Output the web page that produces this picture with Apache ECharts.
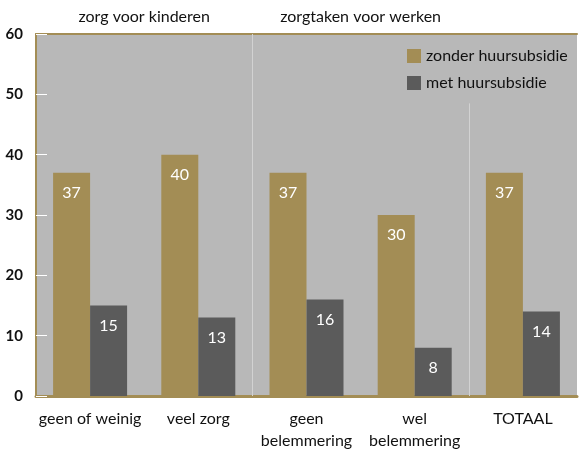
<!DOCTYPE html>
<html>
<head>
<meta charset="utf-8">
<script src="https://cdn.jsdelivr.net/npm/echarts@6/dist/echarts.min.js"></script>
<style>
  html, body { margin: 0; padding: 0; background: #fff; }
  #chart { width: 580px; height: 452px; }
</style>
</head>
<body>
<div id="chart"></div>
<script>
// categorieën en waarden
const categories = ['geen of weinig', 'veel zorg', 'geen\nbelemmering', 'wel\nbelemmering', 'TOTAAL'];
const zonder = [37, 40, 37, 30, 37];
const met = [15, 13, 16, 8, 14];
const groupLabels = { 1: 'zorg voor kinderen', 3: 'zorgtaken voor werken' };
const seriesNames = ['zonder huursubsidie', 'met huursubsidie'];

const gold = '#a38d55';
const dark = '#5b5b5b';
const font = 'Lato';

const chart = echarts.init(document.getElementById('chart'), null, { renderer: 'canvas' });

const barLabel = {
  show: true,
  position: 'insideTop',
  distance: 12,
  color: '#fff',
  fontFamily: font,
  fontSize: 16
};

chart.setOption({
  animation: false,
  textStyle: { fontFamily: font },
  grid: {
    left: 36, top: 34, width: 545, height: 367,
    show: true, backgroundColor: '#b8b8b8', borderWidth: 0
  },
  legend: {
    data: seriesNames,
    orient: 'vertical',
    left: 402, top: 43,
    icon: 'rect',
    itemWidth: 14, itemHeight: 14, itemGap: 11,
    textStyle: { fontFamily: font, fontSize: 16, color: '#111' }
  },
  xAxis: [{
    type: 'category',
    data: categories,
    axisLine: { lineStyle: { color: gold, width: 3 } },
    axisTick: { show: false },
    axisLabel: { fontFamily: font, fontSize: 16, color: '#111', margin: 12, lineHeight: 22, interval: 0 }
  }, {
    type: 'value',
    position: 'top',
    min: 0, max: 5, interval: 1,
    axisLine: { show: true, lineStyle: { color: gold, width: 2 } },
    axisTick: { show: false },
    splitLine: { show: false },
    axisLabel: {
      margin: 9, fontFamily: font, fontSize: 16, color: '#111',
      showMinLabel: true, showMaxLabel: true,
      formatter: v => groupLabels[v] || ''
    }
  }],
  yAxis: {
    type: 'value',
    min: 0, max: 60, interval: 10,
    axisLine: { show: true, lineStyle: { color: gold, width: 2 } },
    axisTick: { show: true, inside: true, length: 11, lineStyle: { color: '#fff', width: 1 } },
    splitLine: { show: false },
    axisLabel: { fontFamily: font, fontSize: 15, fontWeight: 'bold', color: '#111', margin: 13 }
  },
  series: [{
    name: seriesNames[0],
    type: 'bar',
    data: zonder,
    barWidth: 37,
    barGap: '0%',
    itemStyle: { color: gold },
    label: barLabel
  }, {
    name: seriesNames[1],
    type: 'bar',
    data: met,
    barWidth: 37,
    itemStyle: { color: dark },
    label: barLabel
  }, {
    // scheidingslijnen tussen de groepen
    type: 'line',
    xAxisIndex: 1,
    data: [],
    silent: true,
    markLine: {
      symbol: 'none',
      silent: true,
      label: { show: false },
      lineStyle: { color: '#d2d2d2', width: 1, type: 'solid' },
      data: [
        [{ coord: [2, 60] }, { coord: [2, 0] }],
        [{ coord: [4, 48.5] }, { coord: [4, 0] }]
      ]
    }
  }]
});
</script>
</body>
</html>
